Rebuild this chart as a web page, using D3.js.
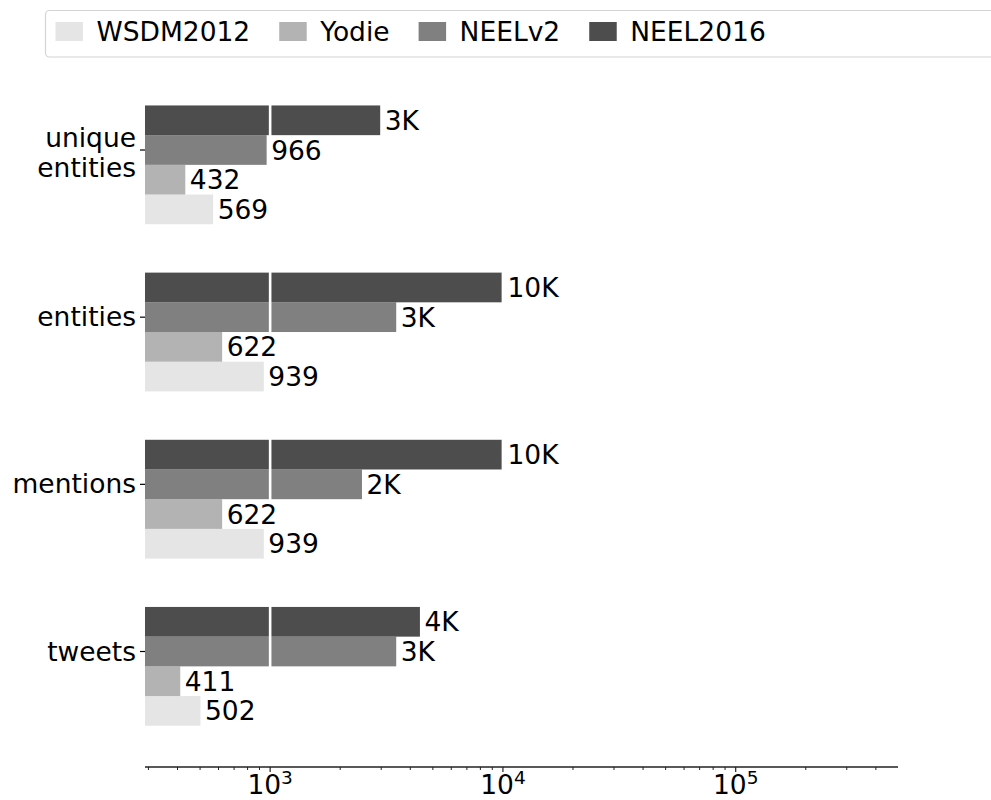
<!DOCTYPE html>
<html>
<head>
<meta charset="utf-8">
<script src="https://cdn.jsdelivr.net/npm/d3@7"></script>
<style>
  html, body { margin: 0; padding: 0; background: #fff; }
  svg { display: block; font-family: "DejaVu Sans", sans-serif; }
</style>
</head>
<body>
<svg id="chart" width="991" height="800"></svg>
<script>
// Dataset sizes per corpus
const categories = ["unique entities", "entities", "mentions", "tweets"];
const seriesNames = ["WSDM2012", "Yodie", "NEELv2", "NEEL2016"];
const wsdm2012 = [569, 939, 939, 502];
const yodie = [432, 622, 622, 411];
const neelv2 = [966, 3480, 2480, 3480];
const neel2016 = [2970, 10000, 10000, 4400];
const seriesColors = ["#e5e5e5", "#b3b3b3", "#808080", "#4d4d4d"];
const majorTicks = [1e3, 1e4, 1e5];

const seriesValues = [wsdm2012, yodie, neelv2, neel2016];

const svg = d3.select("#chart");
const FONT = 26.5;

const x = d3.scaleLog().domain([290, 498000]).range([145, 898]);
const y = d3.scaleLinear().domain([0, categories.length - 1]).range([150, 651.5]);
const barH = 29.7;
const axisY = 767;

const fmt = v => v < 1000 ? String(v) : Math.round(v / 1000) + "K";

// bar centre: NEELv2 sits on the category tick, others stacked around it
const barCenter = (ci, si) => y(ci) + (2 - si) * barH;

const rows = [];
seriesValues.forEach((vals, si) => {
  vals.forEach((v, ci) => rows.push({ ci, si, v }));
});

// bars
svg.append("g").selectAll("rect").data(rows).join("rect")
  .attr("x", x.range()[0])
  .attr("y", d => barCenter(d.ci, d.si) - barH / 2)
  .attr("width", d => x(d.v) - x.range()[0])
  .attr("height", barH)
  .attr("fill", d => seriesColors[d.si]);

// white major gridlines over the bars
svg.append("g").selectAll("line").data(majorTicks).join("line")
  .attr("x1", d => x(d)).attr("x2", d => x(d))
  .attr("y1", y(0) - 2.5 * barH).attr("y2", y(categories.length - 1) + 2.5 * barH)
  .attr("stroke", "#fff").attr("stroke-width", 2.6);

// value labels
svg.append("g").selectAll("text").data(rows).join("text")
  .attr("x", d => x(d.v) + 4.5)
  .attr("y", d => barCenter(d.ci, d.si) + 9.5)
  .attr("font-size", FONT)
  .attr("fill", "#000")
  .text(d => fmt(d.v));

// category ticks and labels
const cat = svg.append("g");
categories.forEach((c, ci) => {
  const cy = y(ci);
  cat.append("line").attr("x1", 140).attr("x2", 145).attr("y1", cy).attr("y2", cy)
    .attr("stroke", "#000").attr("stroke-width", 1.2);
  const words = c.split(" ");
  const t = cat.append("text").attr("text-anchor", "end").attr("font-size", FONT).attr("fill", "#000");
  if (words.length === 1) {
    t.attr("x", 136).attr("y", cy + 9).text(c);
  } else {
    const lineH = 30;
    const first = cy + 12 - (words.length - 1) * lineH / 2;
    words.forEach((w, i) => {
      t.append("tspan").attr("x", 136).attr("y", first + i * lineH).text(w);
    });
  }
});

// x axis
const axis = svg.append("g");
axis.append("line")
  .attr("x1", x.range()[0]).attr("x2", x.range()[1])
  .attr("y1", axisY).attr("y2", axisY)
  .attr("stroke", "#222").attr("stroke-width", 1.3);

const minor = x.ticks().filter(t => !majorTicks.includes(t) && x(t) >= x.range()[0] && x(t) <= x.range()[1]);
axis.selectAll("line.minor").data(minor).join("line").attr("class", "minor")
  .attr("x1", d => x(d)).attr("x2", d => x(d))
  .attr("y1", axisY).attr("y2", axisY + 3)
  .attr("stroke", "#222").attr("stroke-width", 1);
axis.selectAll("line.major").data(majorTicks).join("line").attr("class", "major")
  .attr("x1", d => x(d)).attr("x2", d => x(d))
  .attr("y1", axisY).attr("y2", axisY + 5)
  .attr("stroke", "#222").attr("stroke-width", 1.2);

majorTicks.forEach(t => {
  const lbl = axis.append("text")
    .attr("x", x(t)).attr("y", 794)
    .attr("text-anchor", "middle").attr("font-size", FONT).attr("fill", "#000");
  lbl.append("tspan").text("10");
  lbl.append("tspan").attr("font-size", 18.5).attr("dy", -10.5).text(String(Math.round(Math.log10(t))));
});

// legend
const leg = svg.append("g");
leg.append("rect")
  .attr("x", 45.5).attr("y", 10.5).attr("width", 1000).attr("height", 46.5)
  .attr("rx", 4).attr("fill", "#fff").attr("stroke", "#d4d4d4").attr("stroke-width", 1.2);
let lx = 55.5;
seriesNames.forEach((name, si) => {
  leg.append("rect").attr("x", lx).attr("y", 22).attr("width", 27.5).attr("height", 19)
    .attr("fill", seriesColors[si]);
  const t = leg.append("text").attr("x", lx + 41).attr("y", 41)
    .attr("font-size", FONT).attr("fill", "#000").text(name);
  lx = lx + 41 + t.node().getComputedTextLength() + 29;
});
</script>
</body>
</html>
